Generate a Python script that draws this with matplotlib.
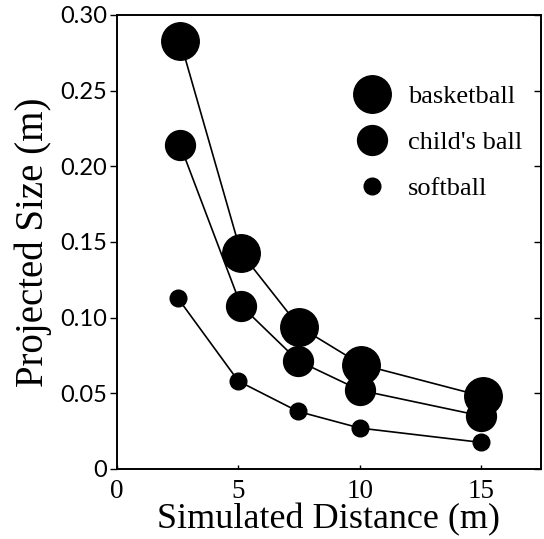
import matplotlib
matplotlib.use("Agg")
import matplotlib.pyplot as plt
from matplotlib.lines import Line2D

distance_basket = [2.6, 5.1, 7.5, 10.05, 15.05]
size_basket = [0.283, 0.143, 0.094, 0.069, 0.048]
distance_child = [2.6, 5.1, 7.45, 10.0, 15.0]
size_child = [0.214, 0.108, 0.0715, 0.052, 0.035]
distance_soft = [2.5, 5.0, 7.45, 10.0, 15.0]
size_soft = [0.113, 0.058, 0.038, 0.027, 0.0175]
labels = ["basketball", "child's ball", "softball"]
xticks = [0, 5, 10, 15]
yticks = [0, 0.05, 0.10, 0.15, 0.20, 0.25, 0.30]
yticklabels = ["0", "0.05", "0.10", "0.15", "0.20", "0.25", "0.30"]

serif = "Liberation Serif"
tickfont = "Lato"

fig = plt.figure(figsize=(5.44, 5.39), dpi=100)
ax = fig.add_axes([0.215, 0.1300, 0.7795, 0.8422])

msizes = [27, 21.5, 12]
for xs, ys, ms in [(distance_basket, size_basket, msizes[0]),
                   (distance_child, size_child, msizes[1]),
                   (distance_soft, size_soft, msizes[2])]:
    ax.plot(xs, ys, color="black", lw=1.2, marker="o", ms=ms,
            markerfacecolor="black", markeredgecolor="black")

ax.set_xlim(0, 17.45)
ax.set_ylim(0, 0.30)
ax.set_xticks(xticks)
ax.set_xticklabels([str(t) for t in xticks], fontfamily=serif, fontsize=19.5)
ax.set_yticks(yticks)
ax.set_yticklabels(yticklabels, fontfamily=tickfont, fontsize=17)
ax.tick_params(axis="y", direction="out", length=5, width=1, left=True, right=False, pad=2)
ax.tick_params(axis="x", direction="in", length=3, width=1, pad=7, top=False)
for s in ax.spines.values():
    s.set_linewidth(1.2)

ax2 = ax.twinx()
ax2.set_ylim(ax.get_ylim())
ax2.set_yticks(yticks)
ax2.tick_params(axis="y", direction="in", length=5, width=1, labelright=False)
for s in ax2.spines.values():
    s.set_linewidth(1.2)

ax.set_xlabel("Simulated Distance (m)", fontfamily=serif, fontsize=26, labelpad=0)
ax.set_ylabel("Projected Size (m)", fontfamily=serif, fontsize=28, labelpad=6)

handles = [Line2D([], [], ls="none", marker="o", ms=ms, color="black") for ms in msizes]
leg = ax2.legend(handles, labels, loc="upper left", bbox_to_anchor=(0.54, 0.876),
                 frameon=False, prop={"family": serif, "size": 19},
                 handlelength=1.0, handletextpad=0.85, labelspacing=0.85, borderpad=0)

fig.savefig("out.png", dpi=100)
